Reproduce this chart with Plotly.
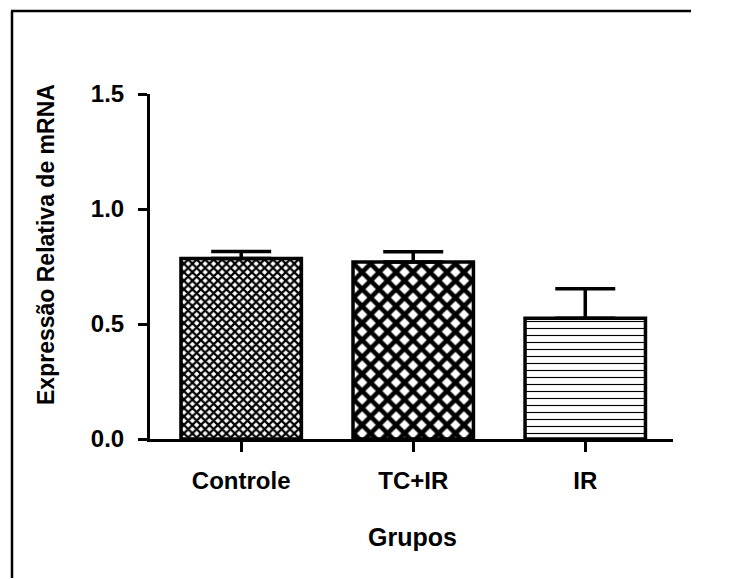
import plotly.graph_objects as go

categories = ["Controle", "TC+IR", "IR"]
values = [0.785, 0.770, 0.525]
errors = [0.030, 0.044, 0.128]
y_ticks = [0.0, 0.5, 1.0, 1.5]
y_ticklabels = ["0.0", "0.5", "1.0", "1.5"]

pattern_shapes = ["x", "x", "-"]
pattern_sizes = [6, 12, 7]
pattern_solidity = [0.6, 0.62, 0.16]

FONT = "Liberation Sans, Arial, sans-serif"

fig = go.Figure()
for i, cat in enumerate(categories):
    fig.add_trace(go.Bar(
        x=[cat], y=[values[i]],
        width=0.7,
        marker=dict(
            color="white",
            line=dict(color="black", width=3.5),
            pattern=dict(shape=pattern_shapes[i], size=pattern_sizes[i],
                         solidity=pattern_solidity[i], fgcolor="black",
                         bgcolor="white", fillmode="replace"),
        ),
        error_y=dict(type="data", symmetric=False, array=[errors[i]],
                     arrayminus=[0], color="black", thickness=3.5, width=30),
        showlegend=False,
    ))

W, H = 731, 579
L, R, T, B = 150, 58, 94, 140
pw, ph = W - L - R, H - T - B
fx = lambda px: (px - L) / pw
fy = lambda py: (H - B - py) / ph

fig.update_layout(
    width=W, height=H,
    margin=dict(l=L, r=R, t=T, b=B),
    paper_bgcolor="white", plot_bgcolor="white",
    font=dict(family=FONT, size=24, color="black"),
    xaxis=dict(
        type="category", range=[-0.53, 2.51],
        showline=True, linecolor="black", linewidth=3,
        ticks="outside", ticklen=10, tickwidth=3, tickcolor="black",
        tickfont=dict(family=FONT, size=24, color="black", weight="bold"),
        ticklabelstandoff=8,
        showgrid=False, zeroline=False,
    ),
    yaxis=dict(
        range=[0, 1.5],
        tickvals=y_ticks, ticktext=y_ticklabels,
        showline=True, linecolor="black", linewidth=3,
        ticks="outside", ticklen=9, tickwidth=3, tickcolor="black",
        tickfont=dict(family=FONT, size=24, color="black", weight="bold"),
        ticklabelstandoff=9,
        showgrid=False, zeroline=False,
    ),
    annotations=[
        dict(text="<b>Grupos</b>", xref="paper", yref="paper",
             x=fx(412), y=fy(537), showarrow=False,
             font=dict(family=FONT, size=25, color="black"),
             xanchor="center", yanchor="middle"),
        dict(text="<b>Expressão Relativa de mRNA</b>", xref="paper", yref="paper",
             x=fx(46), y=fy(245), showarrow=False, textangle=-90,
             font=dict(family=FONT, size=23, color="black"),
             xanchor="center", yanchor="middle"),
    ],
    shapes=[
        dict(type="line", xref="paper", yref="paper",
             x0=fx(12), x1=fx(12), y0=fy(H - 1), y1=fy(11),
             line=dict(color="black", width=2.5)),
        dict(type="line", xref="paper", yref="paper",
             x0=fx(11), x1=fx(W - 40), y0=fy(11), y1=fy(11),
             line=dict(color="black", width=2.5)),
    ],
)

fig.write_html("out.html")
